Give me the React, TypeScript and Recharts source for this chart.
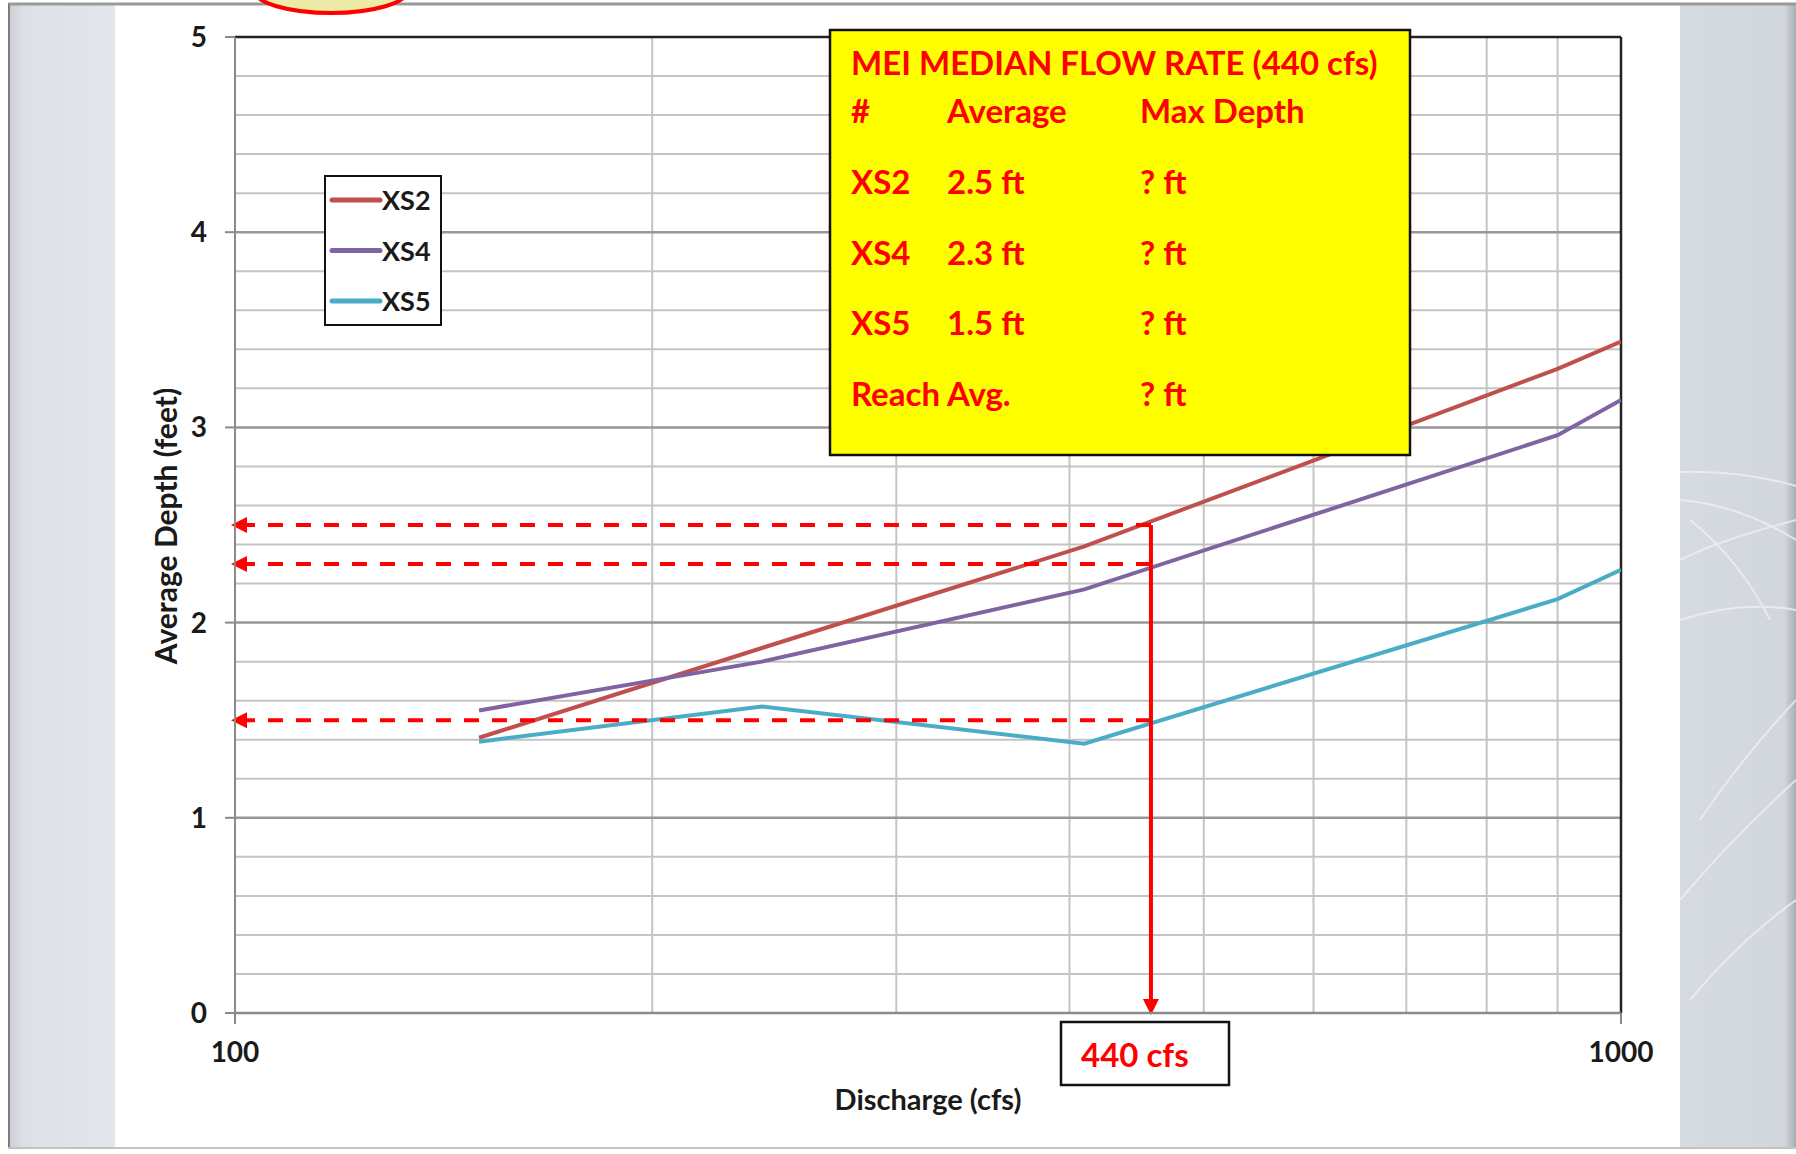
import React from "react";
import {
  LineChart,
  Line,
  XAxis,
  YAxis,
  CartesianGrid,
  ReferenceLine,
  Legend,
} from "recharts";

const FONT = "Lato, 'Open Sans', Arial, sans-serif";
const RED = "#ff0000";
const INK = "#1a1a1a";

// discharge (cfs) where the rating curves were sampled
const discharge = [150, 240, 410, 900, 1000];
// average depth (ft) per cross-section
const xs2 = [1.41, 1.87, 2.39, 3.3, 3.44];
const xs4 = [1.55, 1.8, 2.17, 2.96, 3.14];
const xs5 = [1.39, 1.57, 1.38, 2.12, 2.27];

const seriesNames = ["XS2", "XS4", "XS5"];
const seriesColors = ["#C0504D", "#8064A2", "#4BACC6"];

const yTicks = [0, 1, 2, 3, 4, 5];
const yMajorGrid = [1, 2, 3, 4];
const yMinorGrid = [
  0.2, 0.4, 0.6, 0.8, 1.2, 1.4, 1.6, 1.8, 2.2, 2.4, 2.6, 2.8, 3.2, 3.4, 3.6,
  3.8, 4.2, 4.4, 4.6, 4.8,
];
const xTicks = [100, 1000];
const xGrid = [200, 300, 400, 500, 600, 700, 800, 900];

const arrowDischarge = 458;
const readDepths = [2.5, 2.3, 1.5];

const tableTitle = "MEI MEDIAN FLOW RATE (440 cfs)";
const tableHeader = ["#", "Average", "Max Depth"];
const tableRows = [
  ["XS2", "2.5 ft", "? ft"],
  ["XS4", "2.3 ft", "? ft"],
  ["XS5", "1.5 ft", "? ft"],
  ["Reach Avg.", "", "? ft"],
];
const flowLabel = "440 cfs";

const data = discharge.map((x, i) => ({
  x,
  XS2: xs2[i],
  XS4: xs4[i],
  XS5: xs5[i],
}));

const XTick = ({ x, y, payload }: any) => (
  <text
    x={x}
    y={y + 38}
    textAnchor="middle"
    fontFamily={FONT}
    fontWeight={700}
    fontSize={28}
    fill={INK}
  >
    {payload.value}
  </text>
);

const YTick = ({ x, y, payload }: any) => (
  <text
    x={x}
    y={y + 10}
    textAnchor="end"
    fontFamily={FONT}
    fontWeight={700}
    fontSize={28}
    fill={INK}
  >
    {payload.value}
  </text>
);

const DashedArrow = (p: any) => {
  const { x1, y1, x2, y2 } = p;
  const tip = x1 - 4;
  return (
    <g>
      <line
        x1={x2}
        y1={y2}
        x2={tip + 14}
        y2={y1}
        stroke={RED}
        strokeWidth={4}
        strokeDasharray="15 13"
      />
      <polygon
        points={`${tip},${y1} ${tip + 16},${y1 - 8} ${tip + 16},${y1 + 8}`}
        fill={RED}
      />
    </g>
  );
};

const DownArrow = (p: any) => {
  const { x1, y1, x2, y2 } = p;
  const tip = y2 + 2;
  return (
    <g>
      <line x1={x1} y1={y1} x2={x2} y2={tip - 14} stroke={RED} strokeWidth={4} />
      <polygon
        points={`${x2},${tip} ${x2 - 8},${tip - 16} ${x2 + 8},${tip - 16}`}
        fill={RED}
      />
    </g>
  );
};

const LegendBox = ({ payload }: any) => (
  <svg width={118} height={151} style={{ display: "block" }}>
    <rect x={1} y={1} width={116} height={149} fill="#fff" stroke="#111" strokeWidth={2} />
    {(payload || []).map((entry: any, i: number) => {
      const cy = 25 + i * 50.5;
      return (
        <g key={entry.value}>
          <line x1={8} y1={cy} x2={56} y2={cy} stroke={entry.color} strokeWidth={5} strokeLinecap="round" />
          <text
            x={58}
            y={cy + 10}
            fontFamily={FONT}
            fontWeight={700}
            fontSize={27}
            fill={INK}
          >
            {entry.value}
          </text>
        </g>
      );
    })}
  </svg>
);

const Background = () => (
  <svg width={1796} height={1154} style={{ position: "absolute", left: 0, top: 0 }}>
    <defs>
      <linearGradient id="leftStrip" x1="0" x2="1" y1="0" y2="0">
        <stop offset="0" stopColor="#c9ccd2" />
        <stop offset="0.15" stopColor="#dde0e5" />
        <stop offset="1" stopColor="#e3e6ea" />
      </linearGradient>
      <linearGradient id="rightStrip" x1="0" x2="1" y1="0" y2="0">
        <stop offset="0" stopColor="#d6dae1" />
        <stop offset="0.9" stopColor="#d2d6dd" />
        <stop offset="1" stopColor="#a9acb2" />
      </linearGradient>
    </defs>
    <rect x={0} y={0} width={1796} height={1154} fill="#ffffff" />
    <rect x={8} y={4} width={107} height={1144} fill="url(#leftStrip)" />
    <rect x={1680} y={4} width={116} height={1144} fill="url(#rightStrip)" />
    <g fill="none" stroke="#eef0f3" strokeWidth={2} opacity={0.8}>
      <path d="M1680 472 Q1740 470 1796 486" />
      <path d="M1680 500 Q1740 505 1796 540" />
      <path d="M1690 520 Q1740 560 1770 620" />
      <path d="M1680 560 Q1720 540 1796 520" />
      <path d="M1680 620 Q1740 600 1796 610" />
      <path d="M1700 820 Q1740 760 1796 700" />
      <path d="M1680 900 Q1730 840 1796 780" />
      <path d="M1690 1000 Q1740 940 1796 900" />
    </g>
    <line x1={8} y1={4} x2={1796} y2={4} stroke="#9a9a9a" strokeWidth={3} />
    <line x1={9} y1={4} x2={9} y2={1148} stroke="#7d7d7d" strokeWidth={2} />
    <line x1={8} y1={1148} x2={1796} y2={1148} stroke="#c2c2c2" strokeWidth={2} />
    <ellipse cx={331} cy={-10} rx={77} ry={23} fill="#eeeba6" stroke={RED} strokeWidth={4} />
  </svg>
);

const Overlay = () => {
  const cols = [851, 947, 1140];
  const rowBase = [194, 265, 335, 406];
  const txt = { fontFamily: FONT, fontWeight: 700, fontSize: 33, fill: RED } as const;
  return (
    <svg
      width={1796}
      height={1154}
      style={{ position: "absolute", left: 0, top: 0, pointerEvents: "none" }}
    >
      <rect x={830} y={30} width={580} height={425} fill="#ffff00" stroke="#111" strokeWidth={2.5} />
      <text x={cols[0]} y={75} {...txt}>
        {tableTitle}
      </text>
      {tableHeader.map((h, i) => (
        <text key={h} x={cols[i]} y={123} {...txt}>
          {h}
        </text>
      ))}
      {tableRows.map((row, r) =>
        row.map((cell, c) =>
          cell ? (
            <text key={`${r}-${c}`} x={cols[c]} y={rowBase[r]} {...txt}>
              {cell}
            </text>
          ) : null
        )
      )}

      <rect x={1061} y={1022} width={168} height={63} fill="#fff" stroke="#111" strokeWidth={2.5} />
      <text x={1081} y={1067} {...txt}>
        {flowLabel}
      </text>

      <text
        x={928}
        y={1110}
        textAnchor="middle"
        fontFamily={FONT}
        fontWeight={700}
        fontSize={29}
        fill={INK}
      >
        Discharge (cfs)
      </text>
      <text
        transform="translate(177 526) rotate(-90)"
        textAnchor="middle"
        fontFamily={FONT}
        fontWeight={700}
        fontSize={30}
        fill={INK}
      >
        Average Depth (feet)
      </text>
    </svg>
  );
};

export default function App() {
  return (
    <div
      style={{
        position: "absolute",
        left: 0,
        top: 0,
        width: 1796,
        height: 1154,
        overflow: "hidden",
        background: "#fff",
      }}
    >
      <style>{"body{margin:0}"}</style>
      <Background />
      <div style={{ position: "absolute", left: 0, top: 0 }}>
        <LineChart
          width={1796}
          height={1154}
          data={data}
          margin={{ top: 37, right: 175, bottom: 81, left: 135 }}
        >
          <CartesianGrid
            stroke="#c4c4c4"
            strokeWidth={2}
            horizontalValues={yMinorGrid}
            verticalValues={xGrid}
          />
          <CartesianGrid
            stroke="#979797"
            strokeWidth={2.5}
            horizontalValues={yMajorGrid}
            vertical={false}
          />
          <XAxis
            dataKey="x"
            type="number"
            scale="log"
            domain={[100, 1000]}
            ticks={xTicks}
            allowDataOverflow
            height={60}
            tickSize={11}
            tickMargin={0}
            tickLine={{ stroke: "#8a8a8a", strokeWidth: 2 }}
            axisLine={{ stroke: "#8a8a8a", strokeWidth: 2.5 }}
            tick={<XTick />}
          />
          <YAxis
            type="number"
            domain={[0, 5]}
            ticks={yTicks}
            width={100}
            tickSize={10}
            tickMargin={18}
            tickLine={{ stroke: "#8a8a8a", strokeWidth: 2 }}
            axisLine={{ stroke: "#8a8a8a", strokeWidth: 2 }}
            tick={<YTick />}
          />
          <ReferenceLine y={5} stroke="#222" strokeWidth={2.5} />
          <ReferenceLine x={1000} stroke="#222" strokeWidth={2.5} />
          {seriesNames.map((name, i) => (
            <Line
              key={name}
              dataKey={name}
              name={name}
              type="linear"
              stroke={seriesColors[i]}
              strokeWidth={4}
              dot={false}
              activeDot={false}
              isAnimationActive={false}
            />
          ))}
          {readDepths.map((d) => (
            <ReferenceLine
              key={d}
              segment={[
                { x: 100, y: d },
                { x: arrowDischarge, y: d },
              ]}
              shape={<DashedArrow />}
            />
          ))}
          <ReferenceLine
            segment={[
              { x: arrowDischarge, y: readDepths[0] },
              { x: arrowDischarge, y: 0 },
            ]}
            shape={<DownArrow />}
          />
          <Legend
            layout="vertical"
            align="center"
            verticalAlign="middle"
            content={<LegendBox />}
            wrapperStyle={{ left: 324, top: 175, width: 118, height: 151 }}
          />
        </LineChart>
      </div>
      <Overlay />
    </div>
  );
}
